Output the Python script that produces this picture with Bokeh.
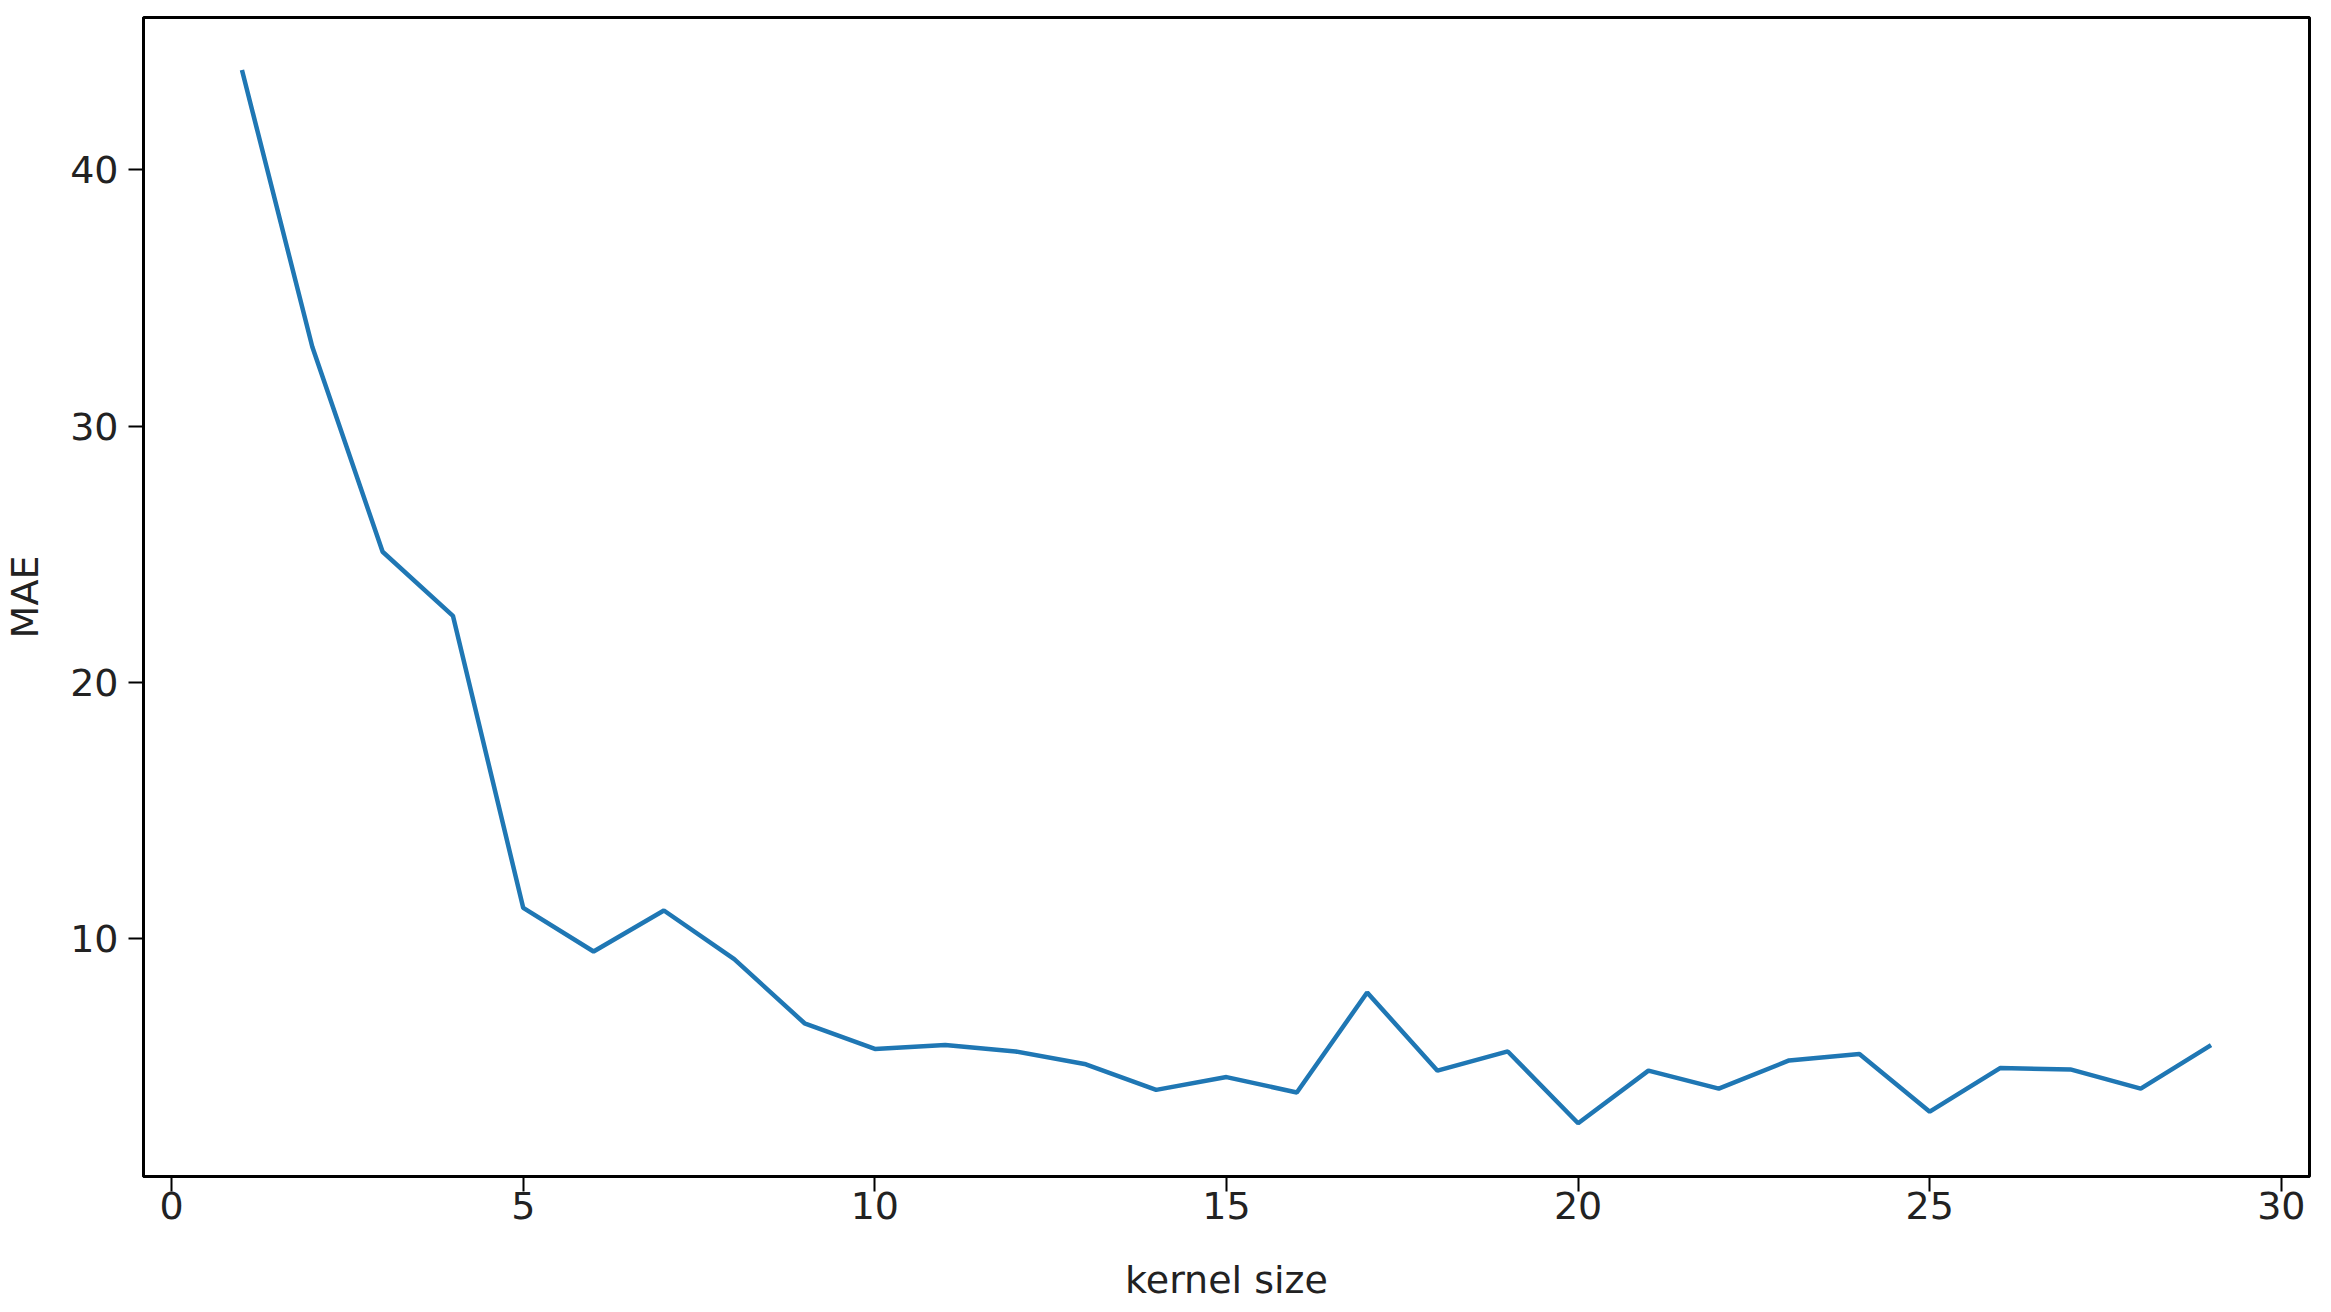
from bokeh.plotting import figure
from bokeh.models import FixedTicker, Range1d
from bokeh.embed import file_html
from bokeh.resources import INLINE

kernel_size = list(range(1, 30))
mae = [43.9, 33.1, 25.1, 22.6, 11.2, 9.5, 11.1, 9.2, 6.7, 5.7,
       5.85, 5.6, 5.1, 4.1, 4.6, 4.0, 7.9, 4.85, 5.6, 2.8,
       4.85, 4.15, 5.25, 5.5, 3.25, 4.95, 4.9, 4.15, 5.85]
x_ticks = [0, 5, 10, 15, 20, 25, 30]
y_ticks = [10, 20, 30, 40]

FONT = "DejaVu Sans"

p = figure(width=2322, height=1304, output_backend="svg", toolbar_location=None,
           x_range=Range1d(-0.4, 30.4), y_range=Range1d(0.72, 45.95))
p.min_border_left = 143
p.min_border_right = 13
p.min_border_top = 17
p.min_border_bottom = 128

p.line(kernel_size, mae, line_color="#1f77b4", line_width=4.5)

p.xgrid.visible = False
p.ygrid.visible = False
p.outline_line_color = "black"
p.outline_line_width = 3
p.outline_line_alpha = 1.0

p.xaxis.ticker = FixedTicker(ticks=x_ticks)
p.yaxis.ticker = FixedTicker(ticks=y_ticks)
p.xaxis.axis_label = "kernel size"
p.yaxis.axis_label = "MAE"

for ax in (p.xaxis[0], p.yaxis[0]):
    ax.axis_line_color = "black"
    ax.axis_line_width = 3
    ax.major_tick_line_color = "black"
    ax.major_tick_line_width = 2
    ax.major_tick_out = 15
    ax.major_tick_in = 0
    ax.minor_tick_line_color = None
    ax.major_label_text_font = FONT
    ax.major_label_text_font_size = "38px"
    ax.major_label_text_color = "#222222"
    ax.axis_label_text_font = FONT
    ax.axis_label_text_font_size = "38px"
    ax.axis_label_text_font_style = "normal"
    ax.axis_label_text_color = "#222222"

p.xaxis.major_label_standoff = 0
p.xaxis.axis_label_standoff = 36
p.yaxis.major_label_standoff = 10
p.yaxis.axis_label_standoff = 20

open("out.html", "w").write(file_html(p, INLINE))
